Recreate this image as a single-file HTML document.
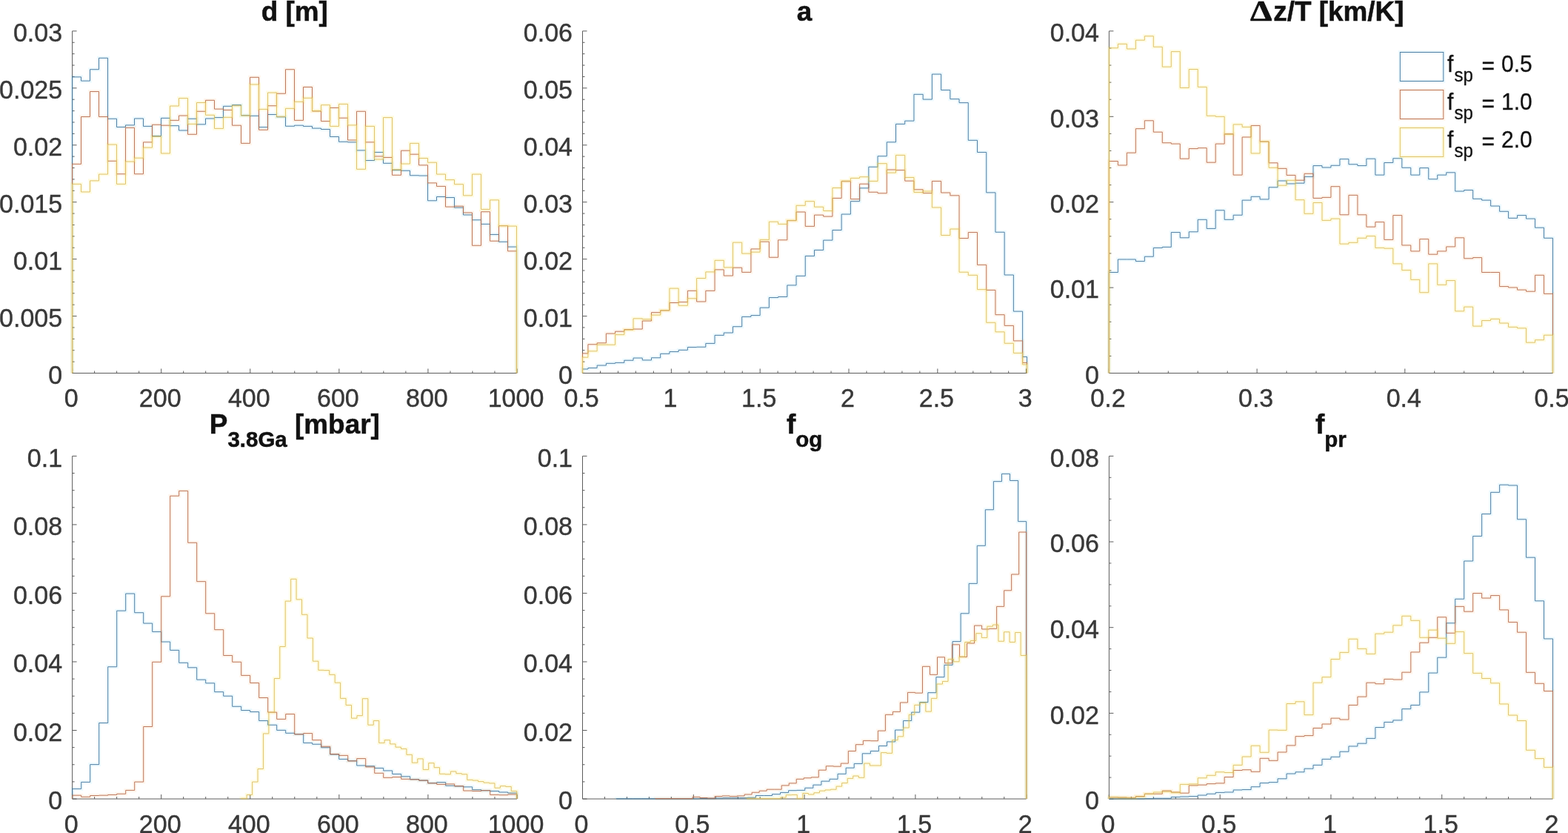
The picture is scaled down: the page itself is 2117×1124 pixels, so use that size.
<!DOCTYPE html>
<html lang="en">
<head>
<meta charset="utf-8">
<title>Posterior histograms</title>
<style>
html,body{margin:0;padding:0;background:#fff;}
body{width:2117px;height:1124px;overflow:hidden;}
svg{display:block;}
text{font-family:"Liberation Sans","DejaVu Sans",sans-serif;}
.tk{font-size:34.0px;fill:#383838;stroke:#383838;stroke-width:0.4px;}
.tt{font-size:36.9px;font-weight:bold;fill:#111;stroke:#111;stroke-width:0.5px;}
.sub{font-size:29.5px;}
.dl{font-family:"Liberation Serif","DejaVu Serif",serif;font-size:39px;font-weight:bold;stroke-width:0.6px;}
.lg{font-size:30px;fill:#111;stroke:#111;stroke-width:0.3px;}
.lsub{font-size:24px;}
.ax{stroke:#5c5c5c;stroke-width:1;fill:none;}
.h{fill:none;stroke-width:0.92;stroke-linejoin:miter;}
.b{stroke:#42749b;}.r{stroke:#b66b4d;}.y{stroke:#dcbd60;}
.hl{fill:none;stroke-width:5;stroke-opacity:0.07;}
.yh{stroke-opacity:0.11;}
.bh{stroke:#00b4ff;}.rh{stroke:#ff7a00;}.yh{stroke:#ffe600;}
</style>
</head>
<body>
<svg width="2117" height="1124" viewBox="0 0 2117 1124">
<rect x="0" y="0" width="2117" height="1124" fill="#ffffff"/>
<g id="panel1">
<path class="ax" d="M97.6 41.9V503.5H698M97.6 503.5v-6M127.62 503.5v-3M157.64 503.5v-3M187.66 503.5v-3M217.68 503.5v-6M247.7 503.5v-3M277.72 503.5v-3M307.74 503.5v-3M337.76 503.5v-6M367.78 503.5v-3M397.8 503.5v-3M427.82 503.5v-3M457.84 503.5v-6M487.86 503.5v-3M517.88 503.5v-3M547.9 503.5v-3M577.92 503.5v-6M607.94 503.5v-3M637.96 503.5v-3M667.98 503.5v-3M698 503.5v-6M97.6 503.5h6M97.6 488.11h3M97.6 472.73h3M97.6 457.34h3M97.6 441.95h3M97.6 426.57h6M97.6 411.18h3M97.6 395.79h3M97.6 380.41h3M97.6 365.02h3M97.6 349.63h6M97.6 334.25h3M97.6 318.86h3M97.6 303.47h3M97.6 288.09h3M97.6 272.7h6M97.6 257.31h3M97.6 241.93h3M97.6 226.54h3M97.6 211.15h3M97.6 195.77h6M97.6 180.38h3M97.6 164.99h3M97.6 149.61h3M97.6 134.22h3M97.6 118.83h6M97.6 103.45h3M97.6 88.06h3M97.6 72.67h3M97.6 57.29h3M97.6 41.9h6"/>
<path class="hl bh" d="M97.5 503.5V103.86H109.5V109.15H121.5V93.72H133.5V78.3H145.5V160.26H157.5V171.46H169.5V168.88H181.5V159.96H193.5V170.4H205.5V183.55H217.5V159.36H229.5V169.64H241.5V175.99H253.5V160.26H265.5V167.83H277.5V159.96H289.5V158.6H301.5V143.33H313.5V141.66H325.5V155.73H337.5V156.33H349.5V171.61H361.5V154.52H373.5V157.84H385.5V170.25H397.5V169.19H409.5V170.4H421.5V173.12H433.5V174.48H445.5V184.46H457.5V191.27H469.5V191.87H481.5V202.91H493.5V216.52H505.5V205.48H517.5V220.3H529.5V229.64H541.5V230.25H553.5V236.75H565.5V237.05H577.5V270.78H589.5V265.48H601.5V266.54H613.5V280.15H625.5V289.98H637.5V296.79H649.5V302.38H661.5V316.45H673.5V326.28H685.5V333.08H697.5V503.5"/>
<path class="h b" d="M97.5 503.5V103.86H109.5V109.15H121.5V93.72H133.5V78.3H145.5V160.26H157.5V171.46H169.5V168.88H181.5V159.96H193.5V170.4H205.5V183.55H217.5V159.36H229.5V169.64H241.5V175.99H253.5V160.26H265.5V167.83H277.5V159.96H289.5V158.6H301.5V143.33H313.5V141.66H325.5V155.73H337.5V156.33H349.5V171.61H361.5V154.52H373.5V157.84H385.5V170.25H397.5V169.19H409.5V170.4H421.5V173.12H433.5V174.48H445.5V184.46H457.5V191.27H469.5V191.87H481.5V202.91H493.5V216.52H505.5V205.48H517.5V220.3H529.5V229.64H541.5V230.25H553.5V236.75H565.5V237.05H577.5V270.78H589.5V265.48H601.5V266.54H613.5V280.15H625.5V289.98H637.5V296.79H649.5V302.38H661.5V316.45H673.5V326.28H685.5V333.08H697.5V503.5"/>
<path class="hl rh" d="M97.5 503.5V221.36H109.5V157.54H121.5V123.52H133.5V157.54H145.5V217.28H157.5V234.78H169.5V172.36H181.5V234.78H193.5V191.87H205.5V168.28H217.5V169.19H229.5V162.38H241.5V156.03H253.5V181.29H265.5V150.28H277.5V135.31H289.5V147.11H301.5V148.47H313.5V169.19H325.5V193.38H337.5V104.31H349.5V175.24H361.5V142.72H373.5V126.24H385.5V93.72H397.5V162.38H409.5V117.47H421.5V149.98H433.5V163.59H445.5V145.44H457.5V159.21H469.5V189H481.5V150.28H493.5V191.87H505.5V210.93H517.5V212.44H529.5V236.29H541.5V203.21H553.5V208.2H565.5V222.87H577.5V246.88H589.5V251.42H601.5V279.09H613.5V278.19H625.5V286.96H637.5V331.27H649.5V285.75H661.5V325.22H673.5V304.65H685.5V338.83H697.5V503.5"/>
<path class="h r" d="M97.5 503.5V221.36H109.5V157.54H121.5V123.52H133.5V157.54H145.5V217.28H157.5V234.78H169.5V172.36H181.5V234.78H193.5V191.87H205.5V168.28H217.5V169.19H229.5V162.38H241.5V156.03H253.5V181.29H265.5V150.28H277.5V135.31H289.5V147.11H301.5V148.47H313.5V169.19H325.5V193.38H337.5V104.31H349.5V175.24H361.5V142.72H373.5V126.24H385.5V93.72H397.5V162.38H409.5V117.47H421.5V149.98H433.5V163.59H445.5V145.44H457.5V159.21H469.5V189H481.5V150.28H493.5V191.87H505.5V210.93H517.5V212.44H529.5V236.29H541.5V203.21H553.5V208.2H565.5V222.87H577.5V246.88H589.5V251.42H601.5V279.09H613.5V278.19H625.5V286.96H637.5V331.27H649.5V285.75H661.5V325.22H673.5V304.65H685.5V338.83H697.5V503.5"/>
<path class="hl yh" d="M97.5 503.5V248.39H109.5V258.98H121.5V243.86H133.5V235.09H145.5V195.05H157.5V248.39H169.5V218.03H181.5V213.19H193.5V199.13H205.5V184.31H217.5V206.99H229.5V143.02H241.5V132.59H253.5V167.37H265.5V138.49H277.5V155.27H289.5V173.42H301.5V158.3H313.5V142.72H325.5V156.03H337.5V113.99H349.5V147.41H361.5V125.03H373.5V157.24H385.5V146.35H397.5V137.28H409.5V132.29H421.5V149.53H433.5V141.66H445.5V170.4H457.5V140.45H469.5V168.88H481.5V228.32H493.5V170.4H505.5V215.01H517.5V158.6H529.5V228.73H541.5V221.06H553.5V193.38H565.5V213.5H577.5V219.24H589.5V235.09H601.5V242.65H613.5V248.7H625.5V263.82H637.5V235.09H649.5V282.42H661.5V269.87H673.5V304.65H685.5V305.1H697.5V503.5"/>
<path class="h y" d="M97.5 503.5V248.39H109.5V258.98H121.5V243.86H133.5V235.09H145.5V195.05H157.5V248.39H169.5V218.03H181.5V213.19H193.5V199.13H205.5V184.31H217.5V206.99H229.5V143.02H241.5V132.59H253.5V167.37H265.5V138.49H277.5V155.27H289.5V173.42H301.5V158.3H313.5V142.72H325.5V156.03H337.5V113.99H349.5V147.41H361.5V125.03H373.5V157.24H385.5V146.35H397.5V137.28H409.5V132.29H421.5V149.53H433.5V141.66H445.5V170.4H457.5V140.45H469.5V168.88H481.5V228.32H493.5V170.4H505.5V215.01H517.5V158.6H529.5V228.73H541.5V221.06H553.5V193.38H565.5V213.5H577.5V219.24H589.5V235.09H601.5V242.65H613.5V248.7H625.5V263.82H637.5V235.09H649.5V282.42H661.5V269.87H673.5V304.65H685.5V305.1H697.5V503.5"/>
<text class="tk" transform="translate(96.1 549.1) scale(1 1.04)" text-anchor="middle">0</text>
<text class="tk" transform="translate(216.18 549.1) scale(1 1.04)" text-anchor="middle">200</text>
<text class="tk" transform="translate(336.26 549.1) scale(1 1.04)" text-anchor="middle">400</text>
<text class="tk" transform="translate(456.34 549.1) scale(1 1.04)" text-anchor="middle">600</text>
<text class="tk" transform="translate(576.42 549.1) scale(1 1.04)" text-anchor="middle">800</text>
<text class="tk" transform="translate(696.5 549.1) scale(1 1.04)" text-anchor="middle">1000</text>
<text class="tk" transform="translate(84.1 517.7) scale(1 1.04)" text-anchor="end">0</text>
<text class="tk" transform="translate(84.1 440.77) scale(1 1.04)" text-anchor="end">0.005</text>
<text class="tk" transform="translate(84.1 363.83) scale(1 1.04)" text-anchor="end">0.01</text>
<text class="tk" transform="translate(84.1 286.9) scale(1 1.04)" text-anchor="end">0.015</text>
<text class="tk" transform="translate(84.1 209.97) scale(1 1.04)" text-anchor="end">0.02</text>
<text class="tk" transform="translate(84.1 133.03) scale(1 1.04)" text-anchor="end">0.025</text>
<text class="tk" transform="translate(84.1 56.1) scale(1 1.04)" text-anchor="end">0.03</text>
<text class="tt" x="397.8" y="27.9" text-anchor="middle">d [m]</text>
</g>
<g id="panel2">
<path class="ax" d="M786.5 41.9V503.5H1385.7M786.5 503.5v-6M810.47 503.5v-3M834.44 503.5v-3M858.4 503.5v-3M882.37 503.5v-3M906.34 503.5v-6M930.31 503.5v-3M954.28 503.5v-3M978.24 503.5v-3M1002.21 503.5v-3M1026.18 503.5v-6M1050.15 503.5v-3M1074.12 503.5v-3M1098.08 503.5v-3M1122.05 503.5v-3M1146.02 503.5v-6M1169.99 503.5v-3M1193.96 503.5v-3M1217.92 503.5v-3M1241.89 503.5v-3M1265.86 503.5v-6M1289.83 503.5v-3M1313.8 503.5v-3M1337.76 503.5v-3M1361.73 503.5v-3M1385.7 503.5v-6M786.5 503.5h6M786.5 488.11h3M786.5 472.73h3M786.5 457.34h3M786.5 441.95h3M786.5 426.57h6M786.5 411.18h3M786.5 395.79h3M786.5 380.41h3M786.5 365.02h3M786.5 349.63h6M786.5 334.25h3M786.5 318.86h3M786.5 303.47h3M786.5 288.09h3M786.5 272.7h6M786.5 257.31h3M786.5 241.93h3M786.5 226.54h3M786.5 211.15h3M786.5 195.77h6M786.5 180.38h3M786.5 164.99h3M786.5 149.61h3M786.5 134.22h3M786.5 118.83h6M786.5 103.45h3M786.5 88.06h3M786.5 72.67h3M786.5 57.29h3M786.5 41.9h6"/>
<path class="hl bh" d="M786.5 503.5V498.03H793.91V496.52H806.13V493.04H818.36V490.32H830.58V489.41H842.8V486.24H855.02V483.06H867.25V485.94H879.47V482.76H891.69V477.32H903.92V474.59H916.14V472.33H928.36V468.54H940.59V468.24H952.81V463.4H965.03V452.36H977.25V449.04H989.48V440.72H1001.7V427.41H1013.92V425.6H1026.15V415.16H1038.37V401.55H1050.59V400.49H1062.82V384.91H1075.04V372.36H1087.26V345.44H1099.49V337.45H1111.71V324.14H1123.93V310.53H1136.15V289.05H1148.38V271.66H1160.6V253.82H1172.82V225.24H1185.05V210.72H1197.27V191.81H1209.49V167.37H1221.71V163.14H1233.94V127.3H1246.16V134.1H1258.38V100.08H1270.61V121.55H1282.83V133.65H1295.05V138.64H1307.28V189.3H1319.5V205.48H1331.72V259.87H1343.95V313.25H1356.17V371H1368.39V420.15H1380.61V481.4H1386.5V503.5"/>
<path class="h b" d="M786.5 503.5V498.03H793.91V496.52H806.13V493.04H818.36V490.32H830.58V489.41H842.8V486.24H855.02V483.06H867.25V485.94H879.47V482.76H891.69V477.32H903.92V474.59H916.14V472.33H928.36V468.54H940.59V468.24H952.81V463.4H965.03V452.36H977.25V449.04H989.48V440.72H1001.7V427.41H1013.92V425.6H1026.15V415.16H1038.37V401.55H1050.59V400.49H1062.82V384.91H1075.04V372.36H1087.26V345.44H1099.49V337.45H1111.71V324.14H1123.93V310.53H1136.15V289.05H1148.38V271.66H1160.6V253.82H1172.82V225.24H1185.05V210.72H1197.27V191.81H1209.49V167.37H1221.71V163.14H1233.94V127.3H1246.16V134.1H1258.38V100.08H1270.61V121.55H1282.83V133.65H1295.05V138.64H1307.28V189.3H1319.5V205.48H1331.72V259.87H1343.95V313.25H1356.17V371H1368.39V420.15H1380.61V481.4H1386.5V503.5"/>
<path class="hl rh" d="M786.5 503.5V476.86H793.91V464.76H806.13V462.8H818.36V450.09H830.58V447.22H842.8V444.65H855.02V444.05H867.25V433.01H879.47V421.66H891.69V418.94H903.92V408.51H916.14V407.6H928.36V392.33H940.59V406.99H952.81V392.33H965.03V363.89H977.25V372.06H989.48V361.17H1001.7V367.37H1013.92V335.94H1026.15V326.11H1038.37V347.26H1050.59V323.84H1062.82V297.67H1075.04V286.03H1087.26V305.39H1099.49V290.11H1111.71V292.08H1123.93V267.43H1136.15V244.74H1148.38V268.64H1160.6V248.22H1172.82V259.26H1185.05V260.78H1197.27V229.02H1209.49V229.62H1221.71V244.14H1233.94V255.78H1246.16V260.62H1258.38V244.44H1270.61V260.02H1282.83V263.8H1295.05V321.57H1307.28V313.55H1319.5V357.39H1331.72V391.42H1343.95V424.69H1356.17V439.36H1368.39V459.92H1380.61V489.41H1386.5V503.5"/>
<path class="h r" d="M786.5 503.5V476.86H793.91V464.76H806.13V462.8H818.36V450.09H830.58V447.22H842.8V444.65H855.02V444.05H867.25V433.01H879.47V421.66H891.69V418.94H903.92V408.51H916.14V407.6H928.36V392.33H940.59V406.99H952.81V392.33H965.03V363.89H977.25V372.06H989.48V361.17H1001.7V367.37H1013.92V335.94H1026.15V326.11H1038.37V347.26H1050.59V323.84H1062.82V297.67H1075.04V286.03H1087.26V305.39H1099.49V290.11H1111.71V292.08H1123.93V267.43H1136.15V244.74H1148.38V268.64H1160.6V248.22H1172.82V259.26H1185.05V260.78H1197.27V229.02H1209.49V229.62H1221.71V244.14H1233.94V255.78H1246.16V260.62H1258.38V244.44H1270.61V260.02H1282.83V263.8H1295.05V321.57H1307.28V313.55H1319.5V357.39H1331.72V391.42H1343.95V424.69H1356.17V439.36H1368.39V459.92H1380.61V489.41H1386.5V503.5"/>
<path class="hl yh" d="M786.5 503.5V482.16H793.91V473.84H806.13V465.22H818.36V465.22H830.58V451.61H842.8V445.1H855.02V429.83H867.25V430.74H879.47V425.14H891.69V418.64H903.92V389.15H916.14V412.29H928.36V402.76H940.59V375.54H952.81V366.92H965.03V351.34H977.25V360.87H989.48V327.16H1001.7V342.12H1013.92V340.17H1026.15V323.38H1038.37V299.19H1050.59V302.36H1062.82V297.37H1075.04V277.26H1087.26V271.66H1099.49V279.22H1111.71V284.52H1123.93V253.52H1136.15V244.14H1148.38V240.36H1160.6V238.7H1172.82V244.44H1185.05V220.7H1197.27V233.1H1209.49V209.36H1221.71V239.45H1233.94V259.57H1246.16V258.05H1258.38V279.98H1270.61V317.49H1282.83V309.02H1295.05V367.22H1307.28V371.3H1319.5V390.66H1331.72V435.27H1343.95V447.83H1356.17V463.25H1368.39V476.41H1380.61V491.98H1386.5V503.5"/>
<path class="h y" d="M786.5 503.5V482.16H793.91V473.84H806.13V465.22H818.36V465.22H830.58V451.61H842.8V445.1H855.02V429.83H867.25V430.74H879.47V425.14H891.69V418.64H903.92V389.15H916.14V412.29H928.36V402.76H940.59V375.54H952.81V366.92H965.03V351.34H977.25V360.87H989.48V327.16H1001.7V342.12H1013.92V340.17H1026.15V323.38H1038.37V299.19H1050.59V302.36H1062.82V297.37H1075.04V277.26H1087.26V271.66H1099.49V279.22H1111.71V284.52H1123.93V253.52H1136.15V244.14H1148.38V240.36H1160.6V238.7H1172.82V244.44H1185.05V220.7H1197.27V233.1H1209.49V209.36H1221.71V239.45H1233.94V259.57H1246.16V258.05H1258.38V279.98H1270.61V317.49H1282.83V309.02H1295.05V367.22H1307.28V371.3H1319.5V390.66H1331.72V435.27H1343.95V447.83H1356.17V463.25H1368.39V476.41H1380.61V491.98H1386.5V503.5"/>
<text class="tk" transform="translate(785 549.1) scale(1 1.04)" text-anchor="middle">0.5</text>
<text class="tk" transform="translate(904.84 549.1) scale(1 1.04)" text-anchor="middle">1</text>
<text class="tk" transform="translate(1024.68 549.1) scale(1 1.04)" text-anchor="middle">1.5</text>
<text class="tk" transform="translate(1144.52 549.1) scale(1 1.04)" text-anchor="middle">2</text>
<text class="tk" transform="translate(1264.36 549.1) scale(1 1.04)" text-anchor="middle">2.5</text>
<text class="tk" transform="translate(1384.2 549.1) scale(1 1.04)" text-anchor="middle">3</text>
<text class="tk" transform="translate(773 517.7) scale(1 1.04)" text-anchor="end">0</text>
<text class="tk" transform="translate(773 440.77) scale(1 1.04)" text-anchor="end">0.01</text>
<text class="tk" transform="translate(773 363.83) scale(1 1.04)" text-anchor="end">0.02</text>
<text class="tk" transform="translate(773 286.9) scale(1 1.04)" text-anchor="end">0.03</text>
<text class="tk" transform="translate(773 209.97) scale(1 1.04)" text-anchor="end">0.04</text>
<text class="tk" transform="translate(773 133.03) scale(1 1.04)" text-anchor="end">0.05</text>
<text class="tk" transform="translate(773 56.1) scale(1 1.04)" text-anchor="end">0.06</text>
<text class="tt" x="1086.1" y="27.9" text-anchor="middle">a</text>
</g>
<g id="panel3">
<path class="ax" d="M1497.4 41.9V503.5H2096.5M1497.4 503.5v-6M1537.34 503.5v-3M1577.28 503.5v-3M1617.22 503.5v-3M1657.16 503.5v-3M1697.1 503.5v-6M1737.04 503.5v-3M1776.98 503.5v-3M1816.92 503.5v-3M1856.86 503.5v-3M1896.8 503.5v-6M1936.74 503.5v-3M1976.68 503.5v-3M2016.62 503.5v-3M2056.56 503.5v-3M2096.5 503.5v-6M1497.4 503.5h6M1497.4 480.42h3M1497.4 457.34h3M1497.4 434.26h3M1497.4 411.18h3M1497.4 388.1h6M1497.4 365.02h3M1497.4 341.94h3M1497.4 318.86h3M1497.4 295.78h3M1497.4 272.7h6M1497.4 249.62h3M1497.4 226.54h3M1497.4 203.46h3M1497.4 180.38h3M1497.4 157.3h6M1497.4 134.22h3M1497.4 111.14h3M1497.4 88.06h3M1497.4 64.98h3M1497.4 41.9h6"/>
<path class="hl bh" d="M1497.4 503.5V367.52H1509.38V350H1521.36V350H1533.35V352.57H1545.33V346.22H1557.31V334.42H1569.29V333.36H1581.27V313.55H1593.26V320.81H1605.24V312.8H1617.22V296.31H1629.2V308.41H1641.18V283.76H1653.17V296.31H1665.15V290.26H1677.13V270.15H1689.11V265.31H1701.09V268.94H1713.08V252.76H1725.06V243.99H1737.04V247.92H1749.02V247.16H1761V238.39H1772.99V223.57H1784.97V225.99H1796.95V223.27H1808.93V214.65H1820.91V221.76H1832.9V223.57H1844.88V214.2H1856.86V236.12H1868.84V219.49H1880.82V213.74H1892.81V226.29H1904.79V236.12H1916.77V226.6H1928.75V241.72H1940.73V236.12H1952.72V232.8H1964.7V258.05H1976.68V256.54H1988.66V268.34H2000.64V270.15H2012.63V278.02H2024.61V285.27H2036.59V294.35H2048.57V290.57H2060.55V295.1H2072.54V307.2H2084.52V321.27H2096.5V503.5"/>
<path class="h b" d="M1497.4 503.5V367.52H1509.38V350H1521.36V350H1533.35V352.57H1545.33V346.22H1557.31V334.42H1569.29V333.36H1581.27V313.55H1593.26V320.81H1605.24V312.8H1617.22V296.31H1629.2V308.41H1641.18V283.76H1653.17V296.31H1665.15V290.26H1677.13V270.15H1689.11V265.31H1701.09V268.94H1713.08V252.76H1725.06V243.99H1737.04V247.92H1749.02V247.16H1761V238.39H1772.99V223.57H1784.97V225.99H1796.95V223.27H1808.93V214.65H1820.91V221.76H1832.9V223.57H1844.88V214.2H1856.86V236.12H1868.84V219.49H1880.82V213.74H1892.81V226.29H1904.79V236.12H1916.77V226.6H1928.75V241.72H1940.73V236.12H1952.72V232.8H1964.7V258.05H1976.68V256.54H1988.66V268.34H2000.64V270.15H2012.63V278.02H2024.61V285.27H2036.59V294.35H2048.57V290.57H2060.55V295.1H2072.54V307.2H2084.52V321.27H2096.5V503.5"/>
<path class="hl rh" d="M1497.4 503.5V217.52H1509.38V222.97H1521.36V206.18H1533.35V173.67H1545.33V162.78H1557.31V178.2H1569.29V192.72H1581.27V194.08H1593.26V214.2H1605.24V200.59H1617.22V199.68H1629.2V219.19H1641.18V194.08H1653.17V180.78H1665.15V236.12H1677.13V185.01H1689.11V169.43H1701.09V191.06H1713.08V219.79H1725.06V227.35H1737.04V236.43H1749.02V243.23H1761V234.31H1772.99V267.43H1784.97V266.37H1796.95V251.7H1808.93V289.81H1820.91V263.35H1832.9V289.81H1844.88V306.14H1856.86V299.64H1868.84V323.38H1880.82V290.57H1892.81V330.95H1904.79V338.96H1916.77V322.63H1928.75V343.19H1940.73V338.96H1952.72V332.91H1964.7V320.81H1976.68V348.79H1988.66V347.58H2000.64V367.52H2012.63V367.52H2024.61V386.58H2036.59V387.94H2048.57V391.12H2060.55V393.23H2072.54V371.3H2084.52V396.41H2096.5V503.5"/>
<path class="h r" d="M1497.4 503.5V217.52H1509.38V222.97H1521.36V206.18H1533.35V173.67H1545.33V162.78H1557.31V178.2H1569.29V192.72H1581.27V194.08H1593.26V214.2H1605.24V200.59H1617.22V199.68H1629.2V219.19H1641.18V194.08H1653.17V180.78H1665.15V236.12H1677.13V185.01H1689.11V169.43H1701.09V191.06H1713.08V219.79H1725.06V227.35H1737.04V236.43H1749.02V243.23H1761V234.31H1772.99V267.43H1784.97V266.37H1796.95V251.7H1808.93V289.81H1820.91V263.35H1832.9V289.81H1844.88V306.14H1856.86V299.64H1868.84V323.38H1880.82V290.57H1892.81V330.95H1904.79V338.96H1916.77V322.63H1928.75V343.19H1940.73V338.96H1952.72V332.91H1964.7V320.81H1976.68V348.79H1988.66V347.58H2000.64V367.52H2012.63V367.52H2024.61V386.58H2036.59V387.94H2048.57V391.12H2060.55V393.23H2072.54V371.3H2084.52V396.41H2096.5V503.5"/>
<path class="hl yh" d="M1497.4 503.5V64.78H1509.38V59.34H1521.36V65.99H1533.35V54.2H1545.33V48.75H1557.31V63.27H1569.29V90.19H1581.27V69.62H1593.26V118.47H1605.24V93.52H1617.22V117.41H1629.2V156.28H1641.18V157.33H1653.17V181.23H1665.15V167.92H1677.13V171.4H1689.11V206.94H1701.09V191.06H1713.08V226.29H1725.06V250.19H1737.04V243.38H1749.02V269.7H1761V288.3H1772.99V273.48H1784.97V297.37H1796.95V295.1H1808.93V329.13H1820.91V327.32H1832.9V321.27H1844.88V318.54H1856.86V334.42H1868.84V335.18H1880.82V355.88H1892.81V364.65H1904.79V377.35H1916.77V394.74H1928.75V355.88H1940.73V384.31H1952.72V378.56H1964.7V419.85H1976.68V414.1H1988.66V440.11H2000.64V432.55H2012.63V430.43H2024.61V436.03H2036.59V441.32H2048.57V442.84H2060.55V462.19H2072.54V458.71H2084.52V452.21H2096.5V503.5"/>
<path class="h y" d="M1497.4 503.5V64.78H1509.38V59.34H1521.36V65.99H1533.35V54.2H1545.33V48.75H1557.31V63.27H1569.29V90.19H1581.27V69.62H1593.26V118.47H1605.24V93.52H1617.22V117.41H1629.2V156.28H1641.18V157.33H1653.17V181.23H1665.15V167.92H1677.13V171.4H1689.11V206.94H1701.09V191.06H1713.08V226.29H1725.06V250.19H1737.04V243.38H1749.02V269.7H1761V288.3H1772.99V273.48H1784.97V297.37H1796.95V295.1H1808.93V329.13H1820.91V327.32H1832.9V321.27H1844.88V318.54H1856.86V334.42H1868.84V335.18H1880.82V355.88H1892.81V364.65H1904.79V377.35H1916.77V394.74H1928.75V355.88H1940.73V384.31H1952.72V378.56H1964.7V419.85H1976.68V414.1H1988.66V440.11H2000.64V432.55H2012.63V430.43H2024.61V436.03H2036.59V441.32H2048.57V442.84H2060.55V462.19H2072.54V458.71H2084.52V452.21H2096.5V503.5"/>
<text class="tk" transform="translate(1495.9 549.1) scale(1 1.04)" text-anchor="middle">0.2</text>
<text class="tk" transform="translate(1695.6 549.1) scale(1 1.04)" text-anchor="middle">0.3</text>
<text class="tk" transform="translate(1895.3 549.1) scale(1 1.04)" text-anchor="middle">0.4</text>
<text class="tk" transform="translate(2095 549.1) scale(1 1.04)" text-anchor="middle">0.5</text>
<text class="tk" transform="translate(1483.9 517.7) scale(1 1.04)" text-anchor="end">0</text>
<text class="tk" transform="translate(1483.9 402.3) scale(1 1.04)" text-anchor="end">0.01</text>
<text class="tk" transform="translate(1483.9 286.9) scale(1 1.04)" text-anchor="end">0.02</text>
<text class="tk" transform="translate(1483.9 171.5) scale(1 1.04)" text-anchor="end">0.03</text>
<text class="tk" transform="translate(1483.9 56.1) scale(1 1.04)" text-anchor="end">0.04</text>
<text class="tt dl" x="1717.6" y="27.9" text-anchor="end" textLength="29.6" lengthAdjust="spacingAndGlyphs">Δ</text>
<text class="tt" x="1719.2" y="27.9">z/T [km/K]</text>
</g>
<g id="panel4">
<path class="ax" d="M97.6 615.4V1078H698M97.6 1078v-6M127.62 1078v-3M157.64 1078v-3M187.66 1078v-3M217.68 1078v-6M247.7 1078v-3M277.72 1078v-3M307.74 1078v-3M337.76 1078v-6M367.78 1078v-3M397.8 1078v-3M427.82 1078v-3M457.84 1078v-6M487.86 1078v-3M517.88 1078v-3M547.9 1078v-3M577.92 1078v-6M607.94 1078v-3M637.96 1078v-3M667.98 1078v-3M698 1078v-6M97.6 1078h6M97.6 1054.87h3M97.6 1031.74h3M97.6 1008.61h3M97.6 985.48h6M97.6 962.35h3M97.6 939.22h3M97.6 916.09h3M97.6 892.96h6M97.6 869.83h3M97.6 846.7h3M97.6 823.57h3M97.6 800.44h6M97.6 777.31h3M97.6 754.18h3M97.6 731.05h3M97.6 707.92h6M97.6 684.79h3M97.6 661.66h3M97.6 638.53h3M97.6 615.4h6"/>
<path class="hl bh" d="M97.7 1078V1064.42H109.7V1055.35H121.7V1031.61H133.7V975.5H145.7V899.75H157.7V824.14H169.7V801H181.7V826.71H193.7V841.08H205.7V852.42H217.7V866.03H229.7V877.37H241.7V894.31H253.7V900.81H265.7V917.15H277.7V921.81H289.7V933.61H301.7V939.21H313.7V953.27H325.7V958.56H337.7V960.53H349.7V972.48H361.7V978.22H373.7V985.33H385.7V989.26H397.7V990.78H409.7V1002.42H421.7V1004.23H433.7V1008.77H445.7V1018H457.7V1024.35H469.7V1026.62H481.7V1032.97H493.7V1033.72H505.7V1036.45H517.7V1039.92H529.7V1044.46H541.7V1047.79H553.7V1051.57H565.7V1053.08H577.7V1056.56H589.7V1055.65H601.7V1060.19H613.7V1060.95H625.7V1061.85H637.7V1065.63H649.7V1066.69H661.7V1067.45H673.7V1068.96H685.7V1070.02H697.7V1078"/>
<path class="h b" d="M97.7 1078V1064.42H109.7V1055.35H121.7V1031.61H133.7V975.5H145.7V899.75H157.7V824.14H169.7V801H181.7V826.71H193.7V841.08H205.7V852.42H217.7V866.03H229.7V877.37H241.7V894.31H253.7V900.81H265.7V917.15H277.7V921.81H289.7V933.61H301.7V939.21H313.7V953.27H325.7V958.56H337.7V960.53H349.7V972.48H361.7V978.22H373.7V985.33H385.7V989.26H397.7V990.78H409.7V1002.42H421.7V1004.23H433.7V1008.77H445.7V1018H457.7V1024.35H469.7V1026.62H481.7V1032.97H493.7V1033.72H505.7V1036.45H517.7V1039.92H529.7V1044.46H541.7V1047.79H553.7V1051.57H565.7V1053.08H577.7V1056.56H589.7V1055.65H601.7V1060.19H613.7V1060.95H625.7V1061.85H637.7V1065.63H649.7V1066.69H661.7V1067.45H673.7V1068.96H685.7V1070.02H697.7V1078"/>
<path class="hl rh" d="M97.7 1078V1073.19H109.7V1075.31H121.7V1073.5H133.7V1073.19H145.7V1072.44H157.7V1071.23H169.7V1066.39H181.7V1055.05H193.7V980.49H205.7V893.25H217.7V804.78H229.7V669.19H241.7V662.38H253.7V732.25H265.7V784.67H277.7V827.77H289.7V849.7H301.7V884.48H313.7V893.25H325.7V911.4H337.7V921.51H349.7V941.47H361.7V961.13H373.7V970.36H385.7V963.55H397.7V990.78H409.7V989.57H421.7V998.64H433.7V1007.26H445.7V1017.54H457.7V1019.36H469.7V1026.92H481.7V1023.59H493.7V1034.93H505.7V1043.25H517.7V1049.3H529.7V1048.54H541.7V1051.27H553.7V1051.87H565.7V1053.08H577.7V1056.86H589.7V1058.37H601.7V1057.92H613.7V1060.64H625.7V1066.99H637.7V1067.45H649.7V1066.69H661.7V1072.44H673.7V1072.74H685.7V1071.98H697.7V1078"/>
<path class="h r" d="M97.7 1078V1073.19H109.7V1075.31H121.7V1073.5H133.7V1073.19H145.7V1072.44H157.7V1071.23H169.7V1066.39H181.7V1055.05H193.7V980.49H205.7V893.25H217.7V804.78H229.7V669.19H241.7V662.38H253.7V732.25H265.7V784.67H277.7V827.77H289.7V849.7H301.7V884.48H313.7V893.25H325.7V911.4H337.7V921.51H349.7V941.47H361.7V961.13H373.7V970.36H385.7V963.55H397.7V990.78H409.7V989.57H421.7V998.64H433.7V1007.26H445.7V1017.54H457.7V1019.36H469.7V1026.92H481.7V1023.59H493.7V1034.93H505.7V1043.25H517.7V1049.3H529.7V1048.54H541.7V1051.27H553.7V1051.87H565.7V1053.08H577.7V1056.86H589.7V1058.37H601.7V1057.92H613.7V1060.64H625.7V1066.99H637.7V1067.45H649.7V1066.69H661.7V1072.44H673.7V1072.74H685.7V1071.98H697.7V1078"/>
<path class="hl yh" d="M325.7 1078V1077.28H333.14V1072.44H340.58V1055.05H348.02V1037.5H355.46V989.87H362.9V961.13H370.34V915.48H377.78V872.53H385.22V811.13H392.66V781.34H400.1V808.87H407.54V829.28H414.98V861.04H422.42V892.19H429.86V904.29H437.3V904.59H444.74V910.34H452.18V921.21H459.62V942.38H467.06V951.46H474.5V969.15H481.94V965.67H489.38V942.68H496.82V978.22H504.26V972.48H511.7V1002.42H519.14V998.64H526.58V1003.93H534.02V1008.17H541.46V1010.43H548.9V1018.3H556.34V1029.19H563.78V1023.89H571.22V1038.41H578.66V1029.64H586.1V1035.69H593.54V1044.31H600.98V1044.76H608.42V1040.98H615.86V1043.71H623.3V1044.76H630.74V1052.33H638.18V1053.08H645.62V1054.59H653.06V1056.11H660.5V1056.86H667.94V1063.21H675.38V1060.64H682.82V1061.4H690.26V1067.45H697.7V1078"/>
<path class="h y" d="M325.7 1078V1077.28H333.14V1072.44H340.58V1055.05H348.02V1037.5H355.46V989.87H362.9V961.13H370.34V915.48H377.78V872.53H385.22V811.13H392.66V781.34H400.1V808.87H407.54V829.28H414.98V861.04H422.42V892.19H429.86V904.29H437.3V904.59H444.74V910.34H452.18V921.21H459.62V942.38H467.06V951.46H474.5V969.15H481.94V965.67H489.38V942.68H496.82V978.22H504.26V972.48H511.7V1002.42H519.14V998.64H526.58V1003.93H534.02V1008.17H541.46V1010.43H548.9V1018.3H556.34V1029.19H563.78V1023.89H571.22V1038.41H578.66V1029.64H586.1V1035.69H593.54V1044.31H600.98V1044.76H608.42V1040.98H615.86V1043.71H623.3V1044.76H630.74V1052.33H638.18V1053.08H645.62V1054.59H653.06V1056.11H660.5V1056.86H667.94V1063.21H675.38V1060.64H682.82V1061.4H690.26V1067.45H697.7V1078"/>
<text class="tk" transform="translate(96.1 1123.6) scale(1 1.04)" text-anchor="middle">0</text>
<text class="tk" transform="translate(216.18 1123.6) scale(1 1.04)" text-anchor="middle">200</text>
<text class="tk" transform="translate(336.26 1123.6) scale(1 1.04)" text-anchor="middle">400</text>
<text class="tk" transform="translate(456.34 1123.6) scale(1 1.04)" text-anchor="middle">600</text>
<text class="tk" transform="translate(576.42 1123.6) scale(1 1.04)" text-anchor="middle">800</text>
<text class="tk" transform="translate(696.5 1123.6) scale(1 1.04)" text-anchor="middle">1000</text>
<text class="tk" transform="translate(84.1 1092.2) scale(1 1.04)" text-anchor="end">0</text>
<text class="tk" transform="translate(84.1 999.68) scale(1 1.04)" text-anchor="end">0.02</text>
<text class="tk" transform="translate(84.1 907.16) scale(1 1.04)" text-anchor="end">0.04</text>
<text class="tk" transform="translate(84.1 814.64) scale(1 1.04)" text-anchor="end">0.06</text>
<text class="tk" transform="translate(84.1 722.12) scale(1 1.04)" text-anchor="end">0.08</text>
<text class="tk" transform="translate(84.1 629.6) scale(1 1.04)" text-anchor="end">0.1</text>
<text class="tt" x="397.8" y="585.3" text-anchor="middle">P<tspan class="sub" dy="17.8">3.8Ga</tspan><tspan dy="-17.8"> [mbar]</tspan></text>
</g>
<g id="panel5">
<path class="ax" d="M786.5 615.4V1078H1385.7M786.5 1078v-6M816.46 1078v-3M846.42 1078v-3M876.38 1078v-3M906.34 1078v-3M936.3 1078v-6M966.26 1078v-3M996.22 1078v-3M1026.18 1078v-3M1056.14 1078v-3M1086.1 1078v-6M1116.06 1078v-3M1146.02 1078v-3M1175.98 1078v-3M1205.94 1078v-3M1235.9 1078v-6M1265.86 1078v-3M1295.82 1078v-3M1325.78 1078v-3M1355.74 1078v-3M1385.7 1078v-6M786.5 1078h6M786.5 1054.87h3M786.5 1031.74h3M786.5 1008.61h3M786.5 985.48h6M786.5 962.35h3M786.5 939.22h3M786.5 916.09h3M786.5 892.96h6M786.5 869.83h3M786.5 846.7h3M786.5 823.57h3M786.5 800.44h6M786.5 777.31h3M786.5 754.18h3M786.5 731.05h3M786.5 707.92h6M786.5 684.79h3M786.5 661.66h3M786.5 638.53h3M786.5 615.4h6"/>
<path class="hl bh" d="M832.17 1078V1077.73H843.24V1077.73H854.31V1077.73H865.38V1077.73H876.45V1077.73H887.52V1077.73H898.59V1077.73H909.66V1077.73H920.73V1077.73H931.8V1077.73H942.87V1077.58H953.94V1077.58H965.01V1076.98H976.08V1076.67H987.15V1076.67H998.22V1076.67H1009.29V1076.22H1020.36V1073.5H1031.43V1073.5H1042.5V1071.68H1053.57V1069.41H1064.64V1066.69H1075.71V1066.39H1086.78V1063.21H1097.85V1059.13H1108.92V1054.14H1119.99V1051.27H1131.06V1044.31H1142.13V1036.14H1153.2V1030.4H1164.27V1016.79H1175.34V1013.46H1186.41V1006.5H1197.48V1000.91H1208.55V985.03H1219.62V972.48H1230.69V961.13H1241.76V947.67H1252.83V934.67H1263.9V913.67H1274.97V897.33H1286.04V865.58H1297.11V827.77H1308.18V787.39H1319.25V736.31H1330.32V687.77H1341.39V649.66H1352.46V639.38H1363.53V648.45H1374.6V703.65H1385.67V1078"/>
<path class="h b" d="M832.17 1078V1077.73H843.24V1077.73H854.31V1077.73H865.38V1077.73H876.45V1077.73H887.52V1077.73H898.59V1077.73H909.66V1077.73H920.73V1077.73H931.8V1077.73H942.87V1077.58H953.94V1077.58H965.01V1076.98H976.08V1076.67H987.15V1076.67H998.22V1076.67H1009.29V1076.22H1020.36V1073.5H1031.43V1073.5H1042.5V1071.68H1053.57V1069.41H1064.64V1066.69H1075.71V1066.39H1086.78V1063.21H1097.85V1059.13H1108.92V1054.14H1119.99V1051.27H1131.06V1044.31H1142.13V1036.14H1153.2V1030.4H1164.27V1016.79H1175.34V1013.46H1186.41V1006.5H1197.48V1000.91H1208.55V985.03H1219.62V972.48H1230.69V961.13H1241.76V947.67H1252.83V934.67H1263.9V913.67H1274.97V897.33H1286.04V865.58H1297.11V827.77H1308.18V787.39H1319.25V736.31H1330.32V687.77H1341.39V649.66H1352.46V639.38H1363.53V648.45H1374.6V703.65H1385.67V1078"/>
<path class="hl rh" d="M884.95 1078V1077.58H894.96V1077.58H904.98V1077.58H914.99V1077.58H925.01V1077.58H935.02V1075.46H945.04V1076.52H955.05V1076.98H965.07V1074.56H975.08V1073.95H985.09V1074.56H995.11V1073.95H1005.12V1071.98H1015.14V1069.26H1025.15V1067.15H1035.17V1065.18H1045.18V1065.18H1055.19V1059.89H1065.21V1056.86H1075.22V1051.27H1085.24V1049.75H1095.25V1048.85H1105.27V1039.17H1115.28V1033.72H1125.3V1034.18H1135.31V1030.09H1145.32V1013.46H1155.34V1004.69H1165.35V999.4H1175.37V999.7H1185.38V986.09H1195.4V964.31H1205.41V960.38H1215.43V947.98H1225.44V934.37H1235.45V935.12H1245.47V899.3H1255.48V910.34H1265.5V886.75H1275.51V894.76H1285.53V869.81H1295.54V886.45H1305.55V868H1315.57V844.1H1325.58V848.94H1335.6V848.34H1345.61V818.39H1355.63V796.77H1365.64V774.99H1375.66V718.02H1385.67V1078"/>
<path class="h r" d="M884.95 1078V1077.58H894.96V1077.58H904.98V1077.58H914.99V1077.58H925.01V1077.58H935.02V1075.46H945.04V1076.52H955.05V1076.98H965.07V1074.56H975.08V1073.95H985.09V1074.56H995.11V1073.95H1005.12V1071.98H1015.14V1069.26H1025.15V1067.15H1035.17V1065.18H1045.18V1065.18H1055.19V1059.89H1065.21V1056.86H1075.22V1051.27H1085.24V1049.75H1095.25V1048.85H1105.27V1039.17H1115.28V1033.72H1125.3V1034.18H1135.31V1030.09H1145.32V1013.46H1155.34V1004.69H1165.35V999.4H1175.37V999.7H1185.38V986.09H1195.4V964.31H1205.41V960.38H1215.43V947.98H1225.44V934.37H1235.45V935.12H1245.47V899.3H1255.48V910.34H1265.5V886.75H1275.51V894.76H1285.53V869.81H1295.54V886.45H1305.55V868H1315.57V844.1H1325.58V848.94H1335.6V848.34H1345.61V818.39H1355.63V796.77H1365.64V774.99H1375.66V718.02H1385.67V1078"/>
<path class="hl yh" d="M1008.36 1078V1077.43H1015.91V1077.43H1023.45V1077.43H1031V1077.43H1038.55V1077.43H1046.09V1077.43H1053.64V1076.07H1061.18V1072.74H1068.73V1072.44H1076.28V1077.28H1083.82V1070.47H1091.37V1071.98H1098.92V1069.72H1106.46V1067.15H1114.01V1065.94H1121.55V1065.18H1129.1V1061.1H1136.65V1056.56H1144.19V1050.36H1151.74V1047.03H1159.29V1049.3H1166.83V1030.09H1174.38V1032.97H1181.92V1032.97H1189.47V1015.58H1197.02V1016.33H1204.56V998.64H1212.11V993.8H1219.66V982H1227.2V964.31H1234.75V951.3H1242.3V948.43H1249.84V960.08H1257.39V942.38H1264.93V923.02H1272.48V919.41H1280.03V889.47H1287.57V892.8H1295.12V886.14H1302.67V866.48H1310.21V864.52H1317.76V854.69H1325.3V860.43H1332.85V845.16H1340.4V843.04H1347.94V865.27H1355.49V852.72H1363.04V866.48H1370.58V853.48H1378.13V884.48H1385.67V1078"/>
<path class="h y" d="M1008.36 1078V1077.43H1015.91V1077.43H1023.45V1077.43H1031V1077.43H1038.55V1077.43H1046.09V1077.43H1053.64V1076.07H1061.18V1072.74H1068.73V1072.44H1076.28V1077.28H1083.82V1070.47H1091.37V1071.98H1098.92V1069.72H1106.46V1067.15H1114.01V1065.94H1121.55V1065.18H1129.1V1061.1H1136.65V1056.56H1144.19V1050.36H1151.74V1047.03H1159.29V1049.3H1166.83V1030.09H1174.38V1032.97H1181.92V1032.97H1189.47V1015.58H1197.02V1016.33H1204.56V998.64H1212.11V993.8H1219.66V982H1227.2V964.31H1234.75V951.3H1242.3V948.43H1249.84V960.08H1257.39V942.38H1264.93V923.02H1272.48V919.41H1280.03V889.47H1287.57V892.8H1295.12V886.14H1302.67V866.48H1310.21V864.52H1317.76V854.69H1325.3V860.43H1332.85V845.16H1340.4V843.04H1347.94V865.27H1355.49V852.72H1363.04V866.48H1370.58V853.48H1378.13V884.48H1385.67V1078"/>
<text class="tk" transform="translate(785 1123.6) scale(1 1.04)" text-anchor="middle">0</text>
<text class="tk" transform="translate(934.8 1123.6) scale(1 1.04)" text-anchor="middle">0.5</text>
<text class="tk" transform="translate(1084.6 1123.6) scale(1 1.04)" text-anchor="middle">1</text>
<text class="tk" transform="translate(1234.4 1123.6) scale(1 1.04)" text-anchor="middle">1.5</text>
<text class="tk" transform="translate(1384.2 1123.6) scale(1 1.04)" text-anchor="middle">2</text>
<text class="tk" transform="translate(773 1092.2) scale(1 1.04)" text-anchor="end">0</text>
<text class="tk" transform="translate(773 999.68) scale(1 1.04)" text-anchor="end">0.02</text>
<text class="tk" transform="translate(773 907.16) scale(1 1.04)" text-anchor="end">0.04</text>
<text class="tk" transform="translate(773 814.64) scale(1 1.04)" text-anchor="end">0.06</text>
<text class="tk" transform="translate(773 722.12) scale(1 1.04)" text-anchor="end">0.08</text>
<text class="tk" transform="translate(773 629.6) scale(1 1.04)" text-anchor="end">0.1</text>
<text class="tt" x="1086.1" y="585.3" text-anchor="middle">f<tspan class="sub" dy="17.8">og</tspan></text>
</g>
<g id="panel6">
<path class="ax" d="M1497.4 615.4V1078H2096.5M1497.4 1078v-6M1527.36 1078v-3M1557.31 1078v-3M1587.27 1078v-3M1617.22 1078v-3M1647.18 1078v-6M1677.13 1078v-3M1707.09 1078v-3M1737.04 1078v-3M1767 1078v-3M1796.95 1078v-6M1826.91 1078v-3M1856.86 1078v-3M1886.82 1078v-3M1916.77 1078v-3M1946.73 1078v-6M1976.68 1078v-3M2006.64 1078v-3M2036.59 1078v-3M2066.55 1078v-3M2096.5 1078v-6M1497.4 1078h6M1497.4 1049.09h3M1497.4 1020.17h3M1497.4 991.26h3M1497.4 962.35h6M1497.4 933.44h3M1497.4 904.52h3M1497.4 875.61h3M1497.4 846.7h6M1497.4 817.79h3M1497.4 788.88h3M1497.4 759.96h3M1497.4 731.05h6M1497.4 702.14h3M1497.4 673.22h3M1497.4 644.31h3M1497.4 615.4h6"/>
<path class="hl bh" d="M1497.4 1078V1077.88H1509.38V1077.88H1521.36V1077.88H1533.35V1077.88H1545.33V1077.58H1557.31V1077.28H1569.29V1077.28H1581.27V1075.46H1593.26V1075.01H1605.24V1074.56H1617.22V1073.04H1629.2V1071.23H1641.18V1069.41H1653.17V1068.96H1665.15V1065.94H1677.13V1065.48H1689.11V1061.7H1701.09V1056.56H1713.08V1055.65H1725.06V1050.81H1737.04V1044.01H1749.02V1041.74H1761V1037.2H1772.99V1032.36H1784.97V1024.35H1796.95V1021.32H1808.93V1014.22H1820.91V1006.96H1832.9V1003.18H1844.88V996.37H1856.86V981.55H1868.84V974.44H1880.82V971.87H1892.81V956.6H1904.79V951.46H1916.77V933.91H1928.75V908.07H1940.73V887.2H1952.72V840.78H1964.7V808.26H1976.68V757.03H1988.66V723.46H2000.64V693.52H2012.63V664.33H2024.61V654.2H2036.59V654.95H2048.57V700.78H2060.55V752.19H2072.54V810.83H2084.52V861.95H2096.5V1078"/>
<path class="h b" d="M1497.4 1078V1077.88H1509.38V1077.88H1521.36V1077.88H1533.35V1077.88H1545.33V1077.58H1557.31V1077.28H1569.29V1077.28H1581.27V1075.46H1593.26V1075.01H1605.24V1074.56H1617.22V1073.04H1629.2V1071.23H1641.18V1069.41H1653.17V1068.96H1665.15V1065.94H1677.13V1065.48H1689.11V1061.7H1701.09V1056.56H1713.08V1055.65H1725.06V1050.81H1737.04V1044.01H1749.02V1041.74H1761V1037.2H1772.99V1032.36H1784.97V1024.35H1796.95V1021.32H1808.93V1014.22H1820.91V1006.96H1832.9V1003.18H1844.88V996.37H1856.86V981.55H1868.84V974.44H1880.82V971.87H1892.81V956.6H1904.79V951.46H1916.77V933.91H1928.75V908.07H1940.73V887.2H1952.72V840.78H1964.7V808.26H1976.68V757.03H1988.66V723.46H2000.64V693.52H2012.63V664.33H2024.61V654.2H2036.59V654.95H2048.57V700.78H2060.55V752.19H2072.54V810.83H2084.52V861.95H2096.5V1078"/>
<path class="hl rh" d="M1497.4 1078V1075.77H1509.38V1076.07H1521.36V1076.37H1533.35V1074.56H1545.33V1071.23H1557.31V1071.23H1569.29V1066.99H1581.27V1068.96H1593.26V1070.17H1605.24V1059.89H1617.22V1059.13H1629.2V1057.62H1641.18V1056.86H1653.17V1048.54H1665.15V1039.47H1677.13V1038.71H1689.11V1041.29H1701.09V1023.29H1713.08V1026.31H1725.06V1014.97H1737.04V1005.9H1749.02V993.65H1761V992.59H1772.99V982.46H1784.97V977.01H1796.95V969.15H1808.93V970.96H1820.91V951.46H1832.9V940.11H1844.88V921.21H1856.86V922.72H1868.84V916.39H1880.82V916.99H1892.81V907.16H1904.79V879.94H1916.77V867.24H1928.75V860.28H1940.73V832.76H1952.72V854.23H1964.7V818.39H1976.68V825.2H1988.66V800.55H2000.64V807.05H2012.63V803.57H2024.61V822.93H2036.59V839.57H2048.57V853.18H2060.55V907.32H2072.54V922.27H2084.52V932.55H2096.5V1078"/>
<path class="h r" d="M1497.4 1078V1075.77H1509.38V1076.07H1521.36V1076.37H1533.35V1074.56H1545.33V1071.23H1557.31V1071.23H1569.29V1066.99H1581.27V1068.96H1593.26V1070.17H1605.24V1059.89H1617.22V1059.13H1629.2V1057.62H1641.18V1056.86H1653.17V1048.54H1665.15V1039.47H1677.13V1038.71H1689.11V1041.29H1701.09V1023.29H1713.08V1026.31H1725.06V1014.97H1737.04V1005.9H1749.02V993.65H1761V992.59H1772.99V982.46H1784.97V977.01H1796.95V969.15H1808.93V970.96H1820.91V951.46H1832.9V940.11H1844.88V921.21H1856.86V922.72H1868.84V916.39H1880.82V916.99H1892.81V907.16H1904.79V879.94H1916.77V867.24H1928.75V860.28H1940.73V832.76H1952.72V854.23H1964.7V818.39H1976.68V825.2H1988.66V800.55H2000.64V807.05H2012.63V803.57H2024.61V822.93H2036.59V839.57H2048.57V853.18H2060.55V907.32H2072.54V922.27H2084.52V932.55H2096.5V1078"/>
<path class="hl yh" d="M1497.4 1078V1075.77H1509.38V1076.22H1521.36V1076.67H1533.35V1075.01H1545.33V1071.23H1557.31V1068.96H1569.29V1068.2H1581.27V1069.72H1593.26V1058.37H1605.24V1057.92H1617.22V1049.75H1629.2V1046.28H1641.18V1041.74H1653.17V1042.5H1665.15V1032.36H1677.13V1021.02H1689.11V1006.2H1701.09V1015.27H1713.08V985.03H1725.06V985.33H1737.04V949.49H1749.02V946.77H1761V964.61H1772.99V921.21H1784.97V913.67H1796.95V889.47H1808.93V880.4H1820.91V862.25H1832.9V875.41H1844.88V882.36H1856.86V855.14H1868.84V853.18H1880.82V843.8H1892.81V831.25H1904.79V837.3H1916.77V860.28H1928.75V850.15H1940.73V861.19H1952.72V868.3H1964.7V852.42H1976.68V881.61H1988.66V908.37H2000.64V915.48H2012.63V921.81H2024.61V949.94H2036.59V965.07H2048.57V972.48H2060.55V1012.25H2072.54V1023.59H2084.52V1035.39H2096.5V1078"/>
<path class="h y" d="M1497.4 1078V1075.77H1509.38V1076.22H1521.36V1076.67H1533.35V1075.01H1545.33V1071.23H1557.31V1068.96H1569.29V1068.2H1581.27V1069.72H1593.26V1058.37H1605.24V1057.92H1617.22V1049.75H1629.2V1046.28H1641.18V1041.74H1653.17V1042.5H1665.15V1032.36H1677.13V1021.02H1689.11V1006.2H1701.09V1015.27H1713.08V985.03H1725.06V985.33H1737.04V949.49H1749.02V946.77H1761V964.61H1772.99V921.21H1784.97V913.67H1796.95V889.47H1808.93V880.4H1820.91V862.25H1832.9V875.41H1844.88V882.36H1856.86V855.14H1868.84V853.18H1880.82V843.8H1892.81V831.25H1904.79V837.3H1916.77V860.28H1928.75V850.15H1940.73V861.19H1952.72V868.3H1964.7V852.42H1976.68V881.61H1988.66V908.37H2000.64V915.48H2012.63V921.81H2024.61V949.94H2036.59V965.07H2048.57V972.48H2060.55V1012.25H2072.54V1023.59H2084.52V1035.39H2096.5V1078"/>
<text class="tk" transform="translate(1495.9 1123.6) scale(1 1.04)" text-anchor="middle">0</text>
<text class="tk" transform="translate(1645.68 1123.6) scale(1 1.04)" text-anchor="middle">0.5</text>
<text class="tk" transform="translate(1795.45 1123.6) scale(1 1.04)" text-anchor="middle">1</text>
<text class="tk" transform="translate(1945.23 1123.6) scale(1 1.04)" text-anchor="middle">1.5</text>
<text class="tk" transform="translate(2095 1123.6) scale(1 1.04)" text-anchor="middle">2</text>
<text class="tk" transform="translate(1483.9 1092.2) scale(1 1.04)" text-anchor="end">0</text>
<text class="tk" transform="translate(1483.9 976.55) scale(1 1.04)" text-anchor="end">0.02</text>
<text class="tk" transform="translate(1483.9 860.9) scale(1 1.04)" text-anchor="end">0.04</text>
<text class="tk" transform="translate(1483.9 745.25) scale(1 1.04)" text-anchor="end">0.06</text>
<text class="tk" transform="translate(1483.9 629.6) scale(1 1.04)" text-anchor="end">0.08</text>
<text class="tt" x="1796.95" y="585.3" text-anchor="middle">f<tspan class="sub" dy="17.8">pr</tspan></text>
</g>
<g id="legend">
<rect class="hl bh" x="1890.3" y="70.5" width="58.5" height="39"/>
<rect class="h b" x="1890.3" y="70.5" width="58.5" height="39"/>
<text class="lg" transform="translate(1953.9 97.1) scale(1 1.05)">f<tspan class="lsub" dx="1.3" dy="12">sp</tspan><tspan dx="3.4" dy="-10.3"> =</tspan><tspan dx="0.6" dy="-1.7"> 0.5</tspan></text>
<rect class="hl rh" x="1890.3" y="121.5" width="58.5" height="39"/>
<rect class="h r" x="1890.3" y="121.5" width="58.5" height="39"/>
<text class="lg" transform="translate(1953.9 148.1) scale(1 1.05)">f<tspan class="lsub" dx="1.3" dy="12">sp</tspan><tspan dx="3.4" dy="-10.3"> =</tspan><tspan dx="0.6" dy="-1.7"> 1.0</tspan></text>
<rect class="hl yh" x="1890.3" y="172.5" width="58.5" height="39"/>
<rect class="h y" x="1890.3" y="172.5" width="58.5" height="39"/>
<text class="lg" transform="translate(1953.9 199.1) scale(1 1.05)">f<tspan class="lsub" dx="1.3" dy="12">sp</tspan><tspan dx="3.4" dy="-10.3"> =</tspan><tspan dx="0.6" dy="-1.7"> 2.0</tspan></text>
</g>
</svg>
</body>
</html>
